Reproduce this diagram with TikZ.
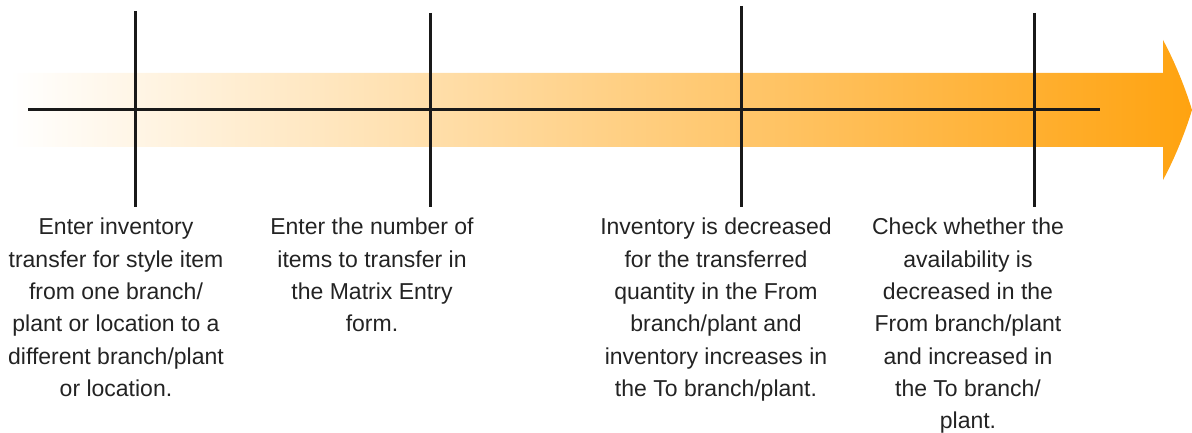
\documentclass[tikz,border=0pt]{standalone}
\usepackage{fontspec}
\setmainfont{Liberation Sans}
\definecolor{arroworange}{RGB}{255,163,16}
\definecolor{txtgrey}{RGB}{35,35,35}
\begin{document}
\begin{tikzpicture}[x=1pt,y=-1pt,
  tick/.style={line width=3pt,black!90},
  axisline/.style={line width=3pt,black!90},
  label/.style={anchor=north,inner sep=0pt,align=center,text=txtgrey,
    font=\fontsize{23}{32.3}\selectfont}]
\useasboundingbox (0,0) rectangle (1192,433);
% gradient arrow
\shade[left color=white,right color=arroworange,draw=none]
  (10,73) -- (1163,73) -- (1163,40)
  .. controls (1175,62) and (1186,90) .. (1192,110)
  .. controls (1186,130) and (1175,158) .. (1163,180)
  -- (1163,147) -- (10,147) -- cycle;
% main line
\coordinate (L0) at (28,110);
\coordinate (L1) at (1100,110);
\draw[axisline] (L0) -- (L1);
% ticks
\coordinate (a1) at (135,11);  \coordinate (b1) at (135,207);
\coordinate (a2) at (430,13);  \coordinate (b2) at (430,207);
\coordinate (a3) at (741,6);   \coordinate (b3) at (741,207);
\coordinate (a4) at (1034,13); \coordinate (b4) at (1034,207);
\draw[tick] (a1) -- (b1);
\draw[tick] (a2) -- (b2);
\draw[tick] (a3) -- (b3);
\draw[tick] (a4) -- (b4);
% labels
\node[label] (t1) at (116,218) {Enter inventory\\transfer for style item\\from one branch/\\plant or location to a\\different branch/plant\\or location.};
\node[label] (t2) at (372,218) {Enter the number of\\items to transfer in\\the Matrix Entry\\form.};
\node[label] (t3) at (716,218) {Inventory is decreased\\for the transferred\\quantity in the From\\branch/plant and\\inventory increases in\\the To branch/plant.};
\node[label] (t4) at (968,218) {Check whether the\\availability is\\decreased in the\\From branch/plant\\and increased in\\the To branch/\\plant.};
\end{tikzpicture}
\end{document}
